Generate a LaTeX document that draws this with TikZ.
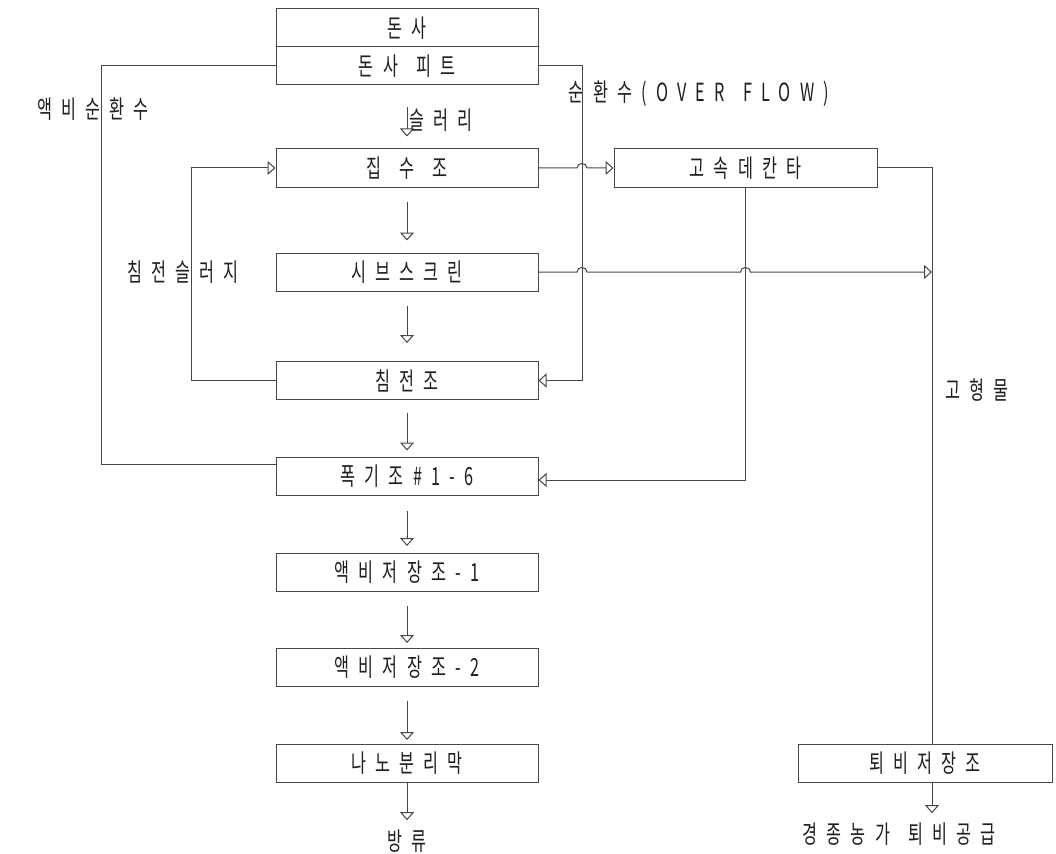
\documentclass[tikz,border=0pt]{standalone}
\usepackage{fontspec}
\usetikzlibrary{arrows.meta}
\newfontfamily\kr[LetterSpace=37,FakeStretch=0.65,WordSpace=1.4]{Noto Sans CJK KR}
\begin{document}
\begin{tikzpicture}[x=1pt,y=-1pt,line width=1pt,
  every node/.style={font=\kr\fontsize{25}{25}\selectfont,text=black!88},
  box/.style={draw=black!72,minimum width=262pt,minimum height=38pt,inner sep=0pt},
  lbl/.style={inner sep=0pt},
  conn/.style={draw=black!72},
  arr/.style={conn,-{Triangle[open,length=8pt,width=14pt]}}]
\fill[white] (0,0) rectangle (1056,853);
\useasboundingbox (0,0) rectangle (1056,853);
% boxes
\node[box] (ds) at (407,28) {돈사};
\node[box] (dsp) at (407,66) {돈사 피트};
\node[box] (jip) at (407,168) {집 수 조};
\node[box,minimum width=263pt] (dec) at (745.5,168) {고속데칸타};
\node[box] (sieve) at (407,272) {시브스크린};
\node[box] (settle) at (407,380.5) {침전조};
\node[box] (aer) at (407,476) {폭기조\#1-6};
\node[box] (st1) at (407,572.5) {액비저장조-1};
\node[box] (st2) at (407,667.5) {액비저장조-2};
\node[box] (nano) at (407,763.5) {나노분리막};
\node[box,minimum width=254pt] (comp) at (925,763) {퇴비저장조};
% labels
\node[lbl] (l1) at (93,109) {액비순환수};
\node[lbl] (l2) at (699,94) {순환수(OVER FLOW)};
\node[lbl,anchor=west] (l3) at (409,120) {슬러리};
\node[lbl] (l4) at (183,272) {침전슬러지};
\node[lbl] (l5) at (977,390) {고형물};
\node[lbl] (out1) at (407,841) {방류};
\node[lbl] (out2) at (899,834) {경종농가 퇴비공급};
% helper coordinates
\coordinate (lt) at (101,66);
\coordinate (lb) at (101,464);
\coordinate (ot) at (582,66);
\coordinate (ob) at (582,380.5);
\coordinate (st) at (191,168);
\coordinate (sb) at (191,380.5);
\coordinate (rt) at (932,168);
\coordinate (dd) at (745.5,480);
\coordinate (j1) at (582,168);
\coordinate (j2) at (582,272);
\coordinate (j3) at (745.5,272);
% loops
\draw[conn] (dsp.west) -- (lt) -- (lb) -- (lb -| aer.west);
\draw[arr] (dsp.east) -- (ot) -- (ob) -- (settle.east);
\draw[arr] (settle.west) -- (sb) -- (st) -- (jip.west);
\draw[arr] (jip.east) -- ([xshift=-5pt]j1) .. controls +(0,-6) and +(0,-6) .. ([xshift=5pt]j1) -- (dec.west);
\draw[arr] (sieve.east) -- ([xshift=-5pt]j2) .. controls +(0,-6) and +(0,-6) .. ([xshift=5pt]j2)
  -- ([xshift=-5pt]j3) .. controls +(0,-6) and +(0,-6) .. ([xshift=5pt]j3) -- (rt |- sieve.east);
\draw[conn] (dec.east) -- (rt) -- (rt |- comp.north);
\draw[arr] (dec.south) -- (dd) -- (dd -| aer.east);
% main flow
\draw[arr,shorten <=22pt,shorten >=12pt] (dsp.south) -- (jip.north);
\draw[arr,shorten <=14pt,shorten >=12pt] (jip.south) -- (sieve.north);
\draw[arr,shorten <=14pt,shorten >=18pt] (sieve.south) -- (settle.north);
\draw[arr,shorten <=13pt,shorten >=6pt] (settle.south) -- (aer.north);
\draw[arr,shorten <=15pt,shorten >=7pt] (aer.south) -- (st1.north);
\draw[arr,shorten <=14pt,shorten >=5pt] (st1.south) -- (st2.north);
\draw[arr,shorten <=14pt,shorten >=4pt] (st2.south) -- (nano.north);
\draw[arr,shorten >=9pt] (nano.south) -- (out1.north);
\draw[arr,shorten >=9pt] (rt |- comp.south) -- (rt |- out2.north);
\end{tikzpicture}
\end{document}
